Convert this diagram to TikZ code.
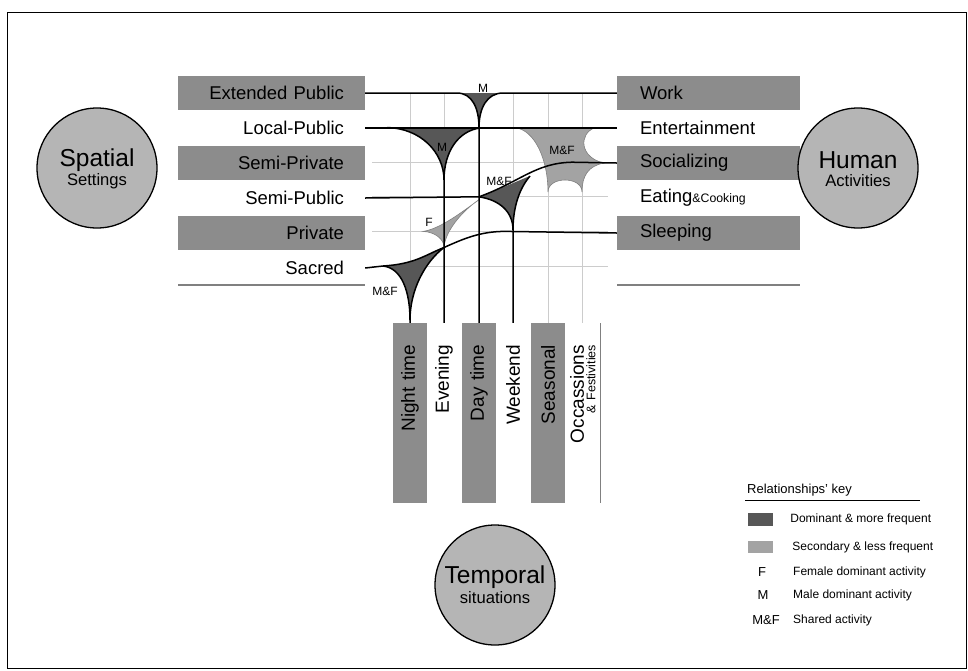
\documentclass[tikz,border=0pt]{standalone}
\usepackage{fontspec}
\setmainfont{Liberation Sans}
\usetikzlibrary{positioning}
\definecolor{boxgray}{gray}{0.55}
\definecolor{circgray}{gray}{0.71}
\definecolor{darkfill}{gray}{0.34}
\definecolor{lightfill}{gray}{0.64}
\definecolor{gridgray}{gray}{0.80}
\tikzset{
  lbox/.style={fill=boxgray, minimum height=34.6pt, inner xsep=21pt, inner ysep=0pt, text width=145pt, align=right, font=\fontsize{18.5}{20}\selectfont},
  lrow/.style={lbox, fill=none},
  rbox/.style={fill=boxgray, minimum height=34.6pt, inner xsep=23pt, inner ysep=0pt, text width=137pt, align=left, font=\fontsize{18.5}{20}\selectfont},
  rrow/.style={rbox, fill=none},
  tbox/.style={fill=boxgray, rotate=90, minimum height=34pt, inner xsep=22pt, inner ysep=0pt, text width=136pt, align=right, font=\fontsize{19}{20}\selectfont},
  trow/.style={tbox, fill=none},
  circ/.style={circle, draw=black, line width=1.3pt, fill=circgray, minimum size=120pt, inner sep=0pt, align=center, font=\fontsize{24.5}{21}\selectfont},
  small/.style={font=\fontsize{16.6}{17}\selectfont},
  link/.style={line width=1.5pt, black},
  grid line/.style={gridgray, line width=1pt},
  base line/.style={gray, line width=1.4pt},
  light cusp/.style={fill=lightfill, draw=gray, line width=0.6pt},
  tag/.style={font=\fontsize{12}{12}\selectfont, inner sep=1pt},
  keytext/.style={font=\fontsize{12}{13}\selectfont, anchor=west, inner sep=0pt},
  keymark/.style={font=\fontsize{13}{13}\selectfont, inner sep=0pt},
}

\begin{document}
\begin{tikzpicture}[x=1pt, y=-1pt, node distance=0pt]
\useasboundingbox (0,0) rectangle (968,670);
\draw[line width=1pt] (7,12) rectangle (966,668);

% spatial settings
\node[lbox]                      (ext)      at (271.5,93) {Extended Public};
\node[lrow, below=of ext]        (local)    {Local-Public};
\node[lbox, below=of local]      (semipriv) {Semi-Private};
\node[lrow, below=of semipriv]   (semipub)  {Semi-Public};
\node[lbox, below=of semipub]    (priv)     {Private};
\node[lrow, below=of priv]       (sacred)   {Sacred};

% human activities
\node[rbox]                      (work)     at (708.5,93) {Work};
\node[rrow, below=of work]       (enter)    {Entertainment};
\node[rbox, below=of enter]      (social)   {Socializing};
\node[rrow, below=of social]     (eating)   {Eating{\fontsize{12.3}{13}\selectfont\&Cooking}};
\node[rbox, below=of eating]     (sleep)    {Sleeping};

% temporal situations
\node[tbox] (night)  at (410,413) {Night time};
\node[trow] (eve)    at (444,413) {Evening};
\node[tbox] (day)    at (479,413) {Day time};
\node[trow] (week)   at (513,413) {Weekend};
\node[tbox] (season) at (548,413) {Seasonal};
\node[trow] (occ)    at (577,413) {Occassions};
\node[trow, font=\fontsize{12.5}{13}\selectfont] (fest) at (591,413) {\& Festivities};

% the three circles
\node[circ] (spatial)  at (97,168)  {};
\node (spatialt) at (97,160) [font=\fontsize{24.5}{21}\selectfont, inner sep=0pt] {Spatial};
\node (spatials) at (97,181) [small, inner sep=0pt] {Settings};
\node[circ] (human)    at (858,168) {};
\node (humant) at (858,160) [font=\fontsize{24.5}{21}\selectfont, inner sep=0pt] {Human};
\node (humans) at (858,181) [small, inner sep=0pt] {Activities};
\node[circ] (temporal) at (495,585) {};
\node (temporalt) at (495,577) [font=\fontsize{24.5}{21}\selectfont, inner sep=0pt] {Temporal};
\node (temporals) at (495,598) [small, inner sep=0pt] {situations};

% grid
\foreach \y in {93,127.6,162.2,196.8,231.4,266}
  \draw[grid line] (372,\y) -- (608,\y);
\foreach \x in {410,444,479,513,548,582}
  \draw[grid line] (\x,93) -- (\x,323);
\draw[grid line, gray] (600,323) -- (600,503);
\draw[base line] (178,285) -- (365,285);
\draw[base line] (617,285) -- (800,285);

% cusps
\fill[darkfill] (457,93) .. controls (472,93) and (479,108) .. (479,127.6) .. controls (479,108) and (487,93) .. (503,93) -- cycle;
\fill[darkfill] (387,127.6) .. controls (420,128) and (444,152) .. (444,180) .. controls (444,152) and (458,131) .. (480,128) -- cycle;
\filldraw[light cusp] (515,127.6) -- (595,127.6) .. controls (578,134) and (580,158) .. (604,163)
  .. controls (588,166) and (582,176) .. (582,192) .. controls (582,176) and (548,176) .. (548,192)
  .. controls (548,160) and (535,130) .. (515,127.6) -- cycle;
\filldraw[light cusp] (423,231.4) .. controls (436,232) and (444,240) .. (444,247)
  .. controls (446,228) and (466,208) .. (480,199) .. controls (462,212) and (440,229) .. (423,231.4) -- cycle;
\fill[darkfill] (479,196.8) .. controls (498,190) and (515,182) .. (530,176)
  .. controls (518,190) and (513,210) .. (513,230) .. controls (513,212) and (500,200) .. (479,196.8) -- cycle;
\fill[darkfill] (383,266) .. controls (415,264) and (425,255) .. (444,247.5)
  .. controls (425,262) and (410,290) .. (410,320) .. controls (410,292) and (402,268) .. (383,266) -- cycle;

% links
\draw[link] (ext.east) -- (457,93) .. controls (472,93) and (479,108) .. (479,127.6) -- (day.east);
\draw[link] (work.west) -- (503,93) .. controls (487,93) and (479,108) .. (479,127.6);
\draw[link] (local.east) -- (enter.west);
\draw[link] (387,127.6) .. controls (420,128) and (444,152) .. (444,180) -- (eve.east);
\draw[link] (444,180) .. controls (444,152) and (458,131) .. (480,128);
\draw[link] (semipub.east) -- (479,196.8) .. controls (520,182) and (535,163) .. (572,162.2) -- (social.west);
\draw[link] (week.east) -- (513,230) .. controls (513,210) and (518,190) .. (530,176);
\draw[link] (513,230) .. controls (513,212) and (500,200) .. (479,196.8);
\draw[link] (sacred.east) -- (383,266) .. controls (415,264) and (425,255) .. (444,247.5)
  .. controls (463,239) and (480,231.4) .. (505,231.4) -- (sleep.west);
\draw[link] (night.east) -- (410,320) .. controls (410,290) and (425,262) .. (444,247.5);
\draw[link] (410,320) .. controls (410,292) and (402,268) .. (383,266);

\node[tag] (mwork)  at (483,88)  {M};
\node[tag] (mlocal) at (442,147) {M};
\node[tag] (mfent)  at (562,150) {M\&F};
\node[tag] (mfsoc)  at (499,181) {M\&F};
\node[tag] (fpriv)  at (429,222) {F};
\node[tag] (mfsac)  at (385,291) {M\&F};

% key
\node[anchor=west, inner sep=0pt, font=\fontsize{13}{14}\selectfont] (keyhead) at (747,490) {Relationships' key};
\draw[line width=0.8pt] (745,500) -- (920,500);
\node[fill=darkfill, minimum width=25pt, minimum height=13pt, inner sep=0pt] (swdark) at (760.5,519.5) {};
\node[keytext, right=17pt of swdark] (kdark) {Dominant \& more frequent};
\node[fill=lightfill, minimum width=25pt, minimum height=12pt, inner sep=0pt] (swlight) at (760.5,547) {};
\node[keytext, right=19pt of swlight] (klight) {Secondary \& less frequent};
\node[keymark] (kf)  at (762,572) {F};
\node[keymark] (km)  at (763,595) {M};
\node[keymark] (kmf) at (766,620) {M\&F};
\node[keytext] (kft)  at (793,572) {Female dominant activity};
\node[keytext] (kmt)  at (793,595) {Male dominant activity};
\node[keytext] (kmft) at (793,620) {Shared activity};
\end{tikzpicture}
\end{document}
